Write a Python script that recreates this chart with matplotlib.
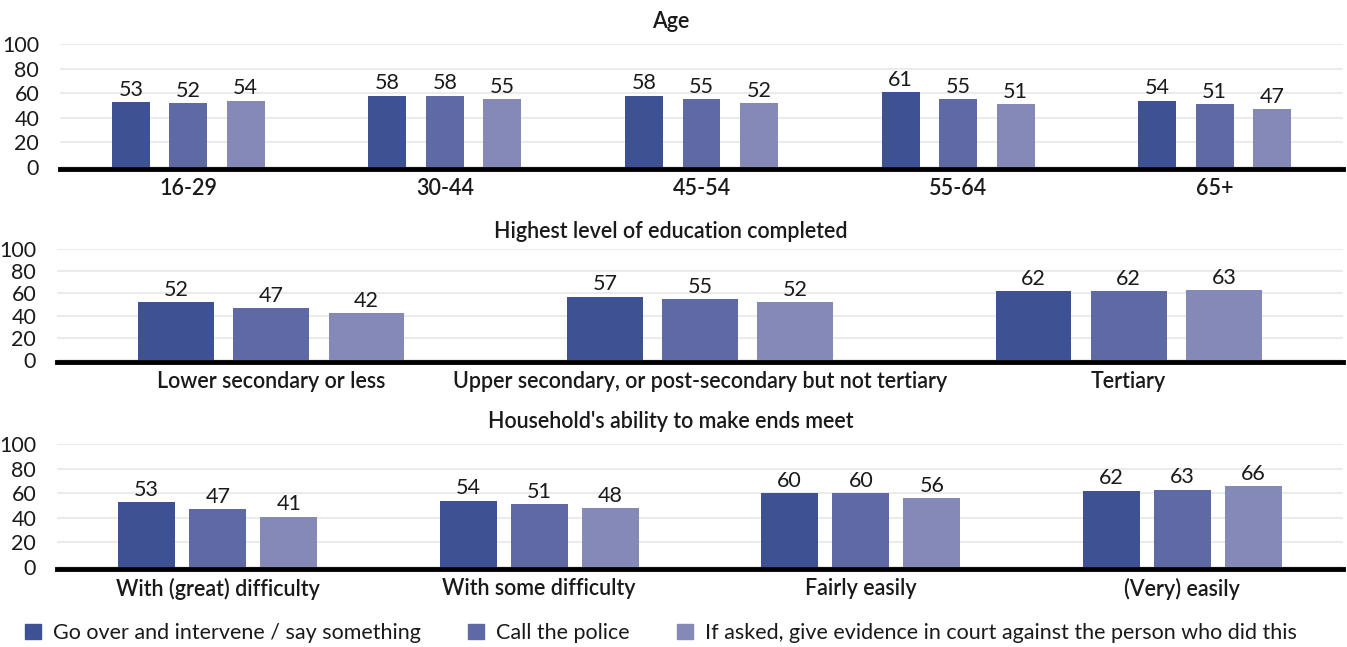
import matplotlib
matplotlib.use("Agg")
import matplotlib.pyplot as plt
import numpy as np

plt.rcParams['font.family'] = ['Lato', 'DejaVu Sans']

# Series names and colours
series = ["Go over and intervene / say something",
          "Call the police",
          "If asked, give evidence in court against the person who did this"]
colors = ["#3E5192", "#5F6AA4", "#8589B8"]

# Age
age_cats = ["16-29", "30-44", "45-54", "55-64", "65+"]
age_intervene = [53, 58, 58, 61, 54]
age_police = [52, 58, 55, 55, 51]
age_court = [54, 55, 52, 51, 47]

# Highest level of education completed
edu_cats = ["Lower secondary or less",
            "Upper secondary, or post-secondary but not tertiary",
            "Tertiary"]
edu_intervene = [52, 57, 62]
edu_police = [47, 55, 62]
edu_court = [42, 52, 63]

# Household's ability to make ends meet
inc_cats = ["With (great) difficulty", "With some difficulty",
            "Fairly easily", "(Very) easily"]
inc_intervene = [53, 54, 60, 62]
inc_police = [47, 51, 60, 63]
inc_court = [41, 48, 56, 66]

yticks = [0, 20, 40, 60, 80, 100]

W, H = 1347, 647
fig = plt.figure(figsize=(W / 100, H / 100), dpi=100)

TXT = "#1a1a1a"
FS = 15.5


def px_axes(left, right, top, bottom):
    return fig.add_axes([left / W, 1 - bottom / H, (right - left) / W, (bottom - top) / H])


panels = [
    dict(title="Age", cats=age_cats,
         vals=[age_intervene, age_police, age_court],
         box=(60, 1343, 44, 167), width=0.148, step=0.224, title_y=22),
    dict(title="Highest level of education completed", cats=edu_cats,
         vals=[edu_intervene, edu_police, edu_court],
         box=(57, 1343, 249, 360), width=0.177, step=0.222, title_y=231),
    dict(title="Household's ability to make ends meet", cats=inc_cats,
         vals=[inc_intervene, inc_police, inc_court],
         box=(57, 1343, 444, 567), width=0.177, step=0.221, title_y=422),
]

for p in panels:
    ax = px_axes(*p["box"])
    # thick black baseline sitting just under zero
    for s in ["top", "right", "left"]:
        ax.spines[s].set_visible(False)
    ax.spines["bottom"].set_position(("outward", 1.5))
    ax.spines["bottom"].set_linewidth(3.5)
    ax.spines["bottom"].set_color("black")
    ax.spines["bottom"].set_zorder(5)

    n = len(p["cats"])
    x = np.arange(n)
    for i, (vals, col) in enumerate(zip(p["vals"], colors)):
        xs = x + (i - 1) * p["step"]
        ax.bar(xs, vals, width=p["width"], color=col, zorder=3)
        for xi, v in zip(xs, vals):
            ax.annotate(f"{v}", (xi, v), xytext=(0, 4.5), textcoords="offset points",
                        ha="center", va="baseline", fontsize=FS, color=TXT, zorder=4)
    ax.set_xlim(-0.5, n - 0.5)
    ax.set_ylim(0, 100)
    ax.set_yticks(yticks)
    ax.set_yticklabels([str(t) for t in yticks], fontsize=FS, color=TXT)
    ax.set_xticks(x)
    ax.set_xticklabels(p["cats"], fontsize=FS, color=TXT, fontweight="semibold")
    ax.tick_params(axis="both", length=0)
    ax.tick_params(axis="y", pad=15)
    ax.tick_params(axis="x", pad=6.5)
    ax.grid(axis="y", color="#ebebeb", linewidth=1.5, zorder=0)
    fig.text(671 / W, 1 - p["title_y"] / H, p["title"], ha="center", va="center",
             fontsize=FS, color=TXT, fontweight="semibold")

# Legend
handles = [plt.Rectangle((0, 0), 1, 1, color=c) for c in colors]
fig.legend(handles, series, loc="center left", bbox_to_anchor=(16 / W, 1 - 633 / H),
           ncol=3, frameon=False, fontsize=FS, handlelength=0.75, handleheight=0.75,
           handletextpad=0.55, columnspacing=2.2, labelcolor=TXT, borderaxespad=0)

fig.savefig("out.png", dpi=100, facecolor="white")
